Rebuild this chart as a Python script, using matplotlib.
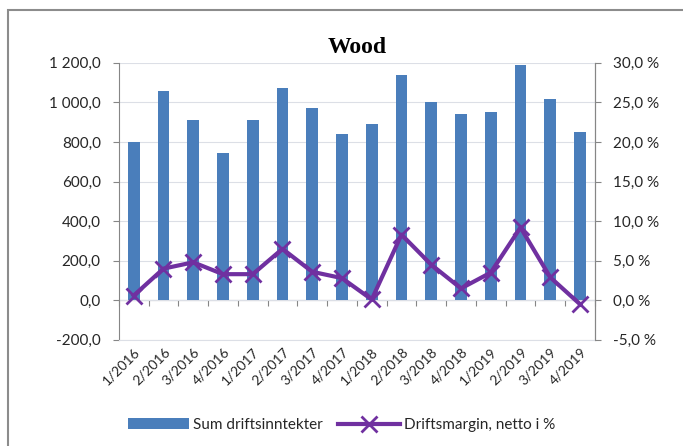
import matplotlib
matplotlib.use("Agg")
import matplotlib.pyplot as plt
from matplotlib.patches import Rectangle
from matplotlib.ticker import FuncFormatter, FixedLocator
import numpy as np

categories = ["1/2016", "2/2016", "3/2016", "4/2016", "1/2017", "2/2017", "3/2017", "4/2017",
              "1/2018", "2/2018", "3/2018", "4/2018", "1/2019", "2/2019", "3/2019", "4/2019"]
revenue = [800, 1060, 910, 745, 910, 1075, 970, 840, 890, 1140, 1000, 940, 950, 1190, 1015, 850]
margin = [0.6, 4.0, 4.8, 3.3, 3.3, 6.5, 3.6, 2.8, 0.1, 8.3, 4.5, 1.5, 3.5, 9.2, 2.9, -0.5]

plt.rcParams['font.family'] = ['Lato', 'DejaVu Sans']

fig = plt.figure(figsize=(6.83, 4.46), dpi=100)
fig.patch.set_facecolor('white')
fig.patches.append(Rectangle((0.011, -0.02), 1.0, 0.997, transform=fig.transFigure,
                             fill=False, edgecolor='#8c8c8c', linewidth=1.5))

ax = fig.add_axes([0.174, 0.238, 0.697, 0.621])
x = np.arange(len(categories))
ax.bar(x, revenue, width=0.4, color='#4a7ebb', zorder=2, label='Sum driftsinntekter')
ax.set_ylim(-200, 1200)
ax.set_xlim(-0.5, len(categories) - 0.5)
ax.set_yticks(np.arange(-200, 1201, 200))
ax.yaxis.set_major_formatter(FuncFormatter(lambda v, p: f"{v:,.1f}".replace(",", " ").replace(".", ",")))
ax.grid(axis='y', color='#dcdfe6', linewidth=0.8, zorder=0)
ax.set_axisbelow(True)
ax.spines['top'].set_visible(False)
ax.spines['bottom'].set_color('#dcdfe6')
ax.spines['left'].set_color('#868686')
ax.spines['right'].set_color('#868686')
ax.tick_params(axis='y', length=4, color='#868686', labelsize=11, labelcolor='#262626', pad=9)
ax.set_xticks(x)
ax.set_xticklabels(categories, rotation=45, ha='right', rotation_mode='anchor', fontsize=10,
                   color='#262626')
ax.tick_params(axis='x', length=0, pad=4)

# category axis at zero with tick marks between categories
sec = ax.secondary_xaxis(200 / 1400)
sec.spines['bottom'].set_color('#868686')
sec.xaxis.set_major_locator(FixedLocator(np.arange(-0.5, len(categories), 1.0)))
sec.tick_params(axis='x', length=4, color='#868686', labelbottom=False)

ax2 = ax.twinx()
ax2.plot(x, margin, color='#7030a0', linewidth=3, marker='x', markersize=12,
         markeredgewidth=2, zorder=3, label='Driftsmargin, netto i %')
ax2.set_ylim(-5, 30)
ax2.set_yticks(np.arange(-5, 31, 5))
ax2.yaxis.set_major_formatter(FuncFormatter(lambda v, p: f"{v:.1f} %".replace(".", ",")))
ax2.spines['top'].set_visible(False)
ax2.spines['left'].set_visible(False)
ax2.spines['bottom'].set_visible(False)
ax2.spines['right'].set_color('#868686')
ax2.tick_params(axis='y', length=4, color='#868686', labelsize=11, labelcolor='#262626', pad=9)

ax.set_title("Wood", fontfamily='Liberation Serif', fontweight='bold', fontsize=17, pad=7)

h1, l1 = ax.get_legend_handles_labels()
h2, l2 = ax2.get_legend_handles_labels()
fig.legend(h1 + h2, l1 + l2, loc='center', bbox_to_anchor=(0.5, 0.047), ncol=2,
           frameon=False, fontsize=11, handlelength=4.0, columnspacing=1.0, handletextpad=0.3,
           labelcolor='#262626')

fig.savefig("out.png", dpi=100, facecolor='white')
